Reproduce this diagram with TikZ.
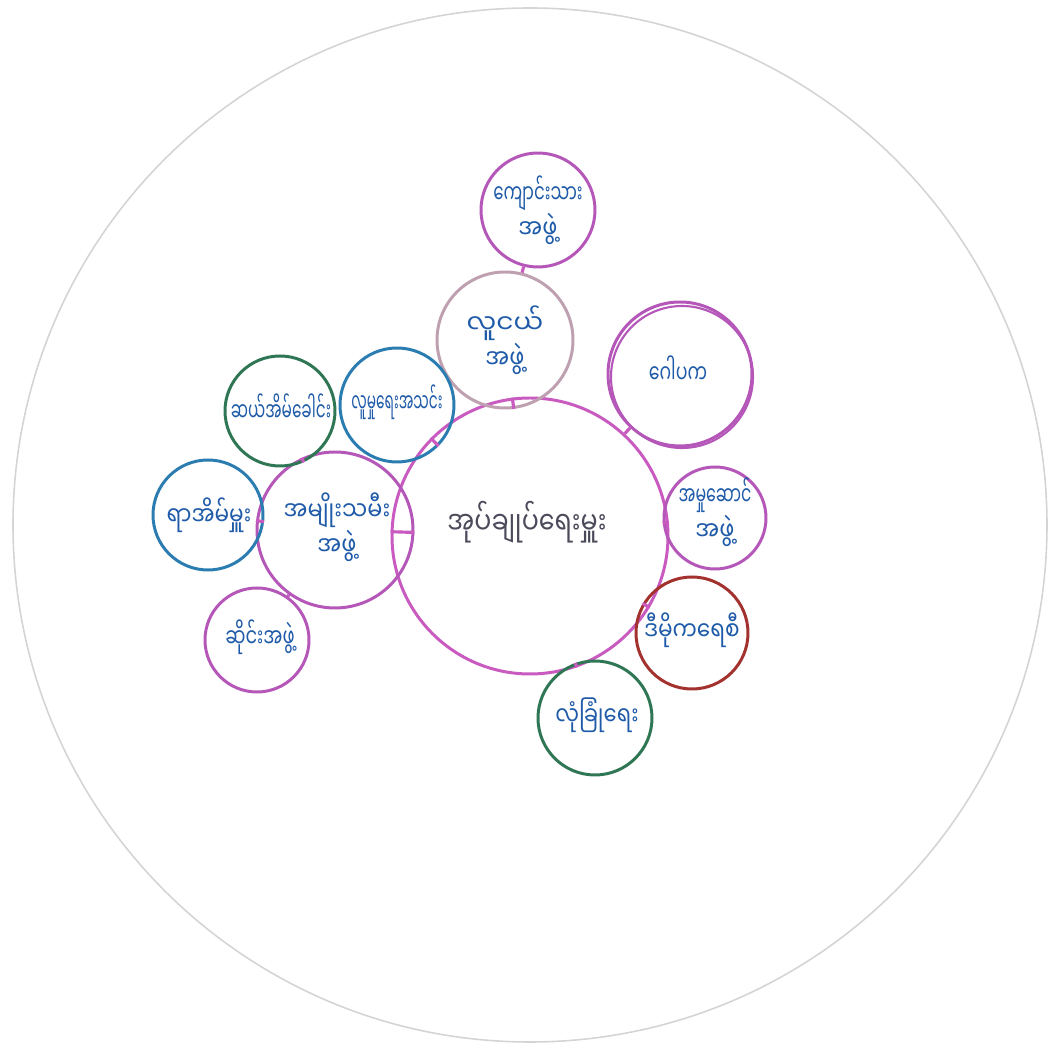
\documentclass[tikz,border=0pt]{standalone}
\usepackage{graphicx}
\usepackage{fontspec}
\newfontfamily\mmfont[Script=Myanmar]{Noto Sans Myanmar UI}
\definecolor{rimgray}{HTML}{D4D4D4}
\definecolor{hubpink}{HTML}{C85AC0}
\definecolor{plum}{HTML}{B457B8}
\definecolor{dustpink}{HTML}{BFA0B0}
\definecolor{tealblue}{HTML}{2B7CB0}
\definecolor{pine}{HTML}{2F7654}
\definecolor{brick}{HTML}{A3322F}
\definecolor{ink}{HTML}{1F5BA8}
\definecolor{hubink}{HTML}{4A4A5A}
% squeeze a word sideways, as the hand wrote it
\newcommand{\sq}[2]{\scalebox{#1}[1]{#2}}

\begin{document}
\begin{tikzpicture}[x=1cm, y=-1cm,
    bub/.style={circle, draw, line width=0.85pt, inner sep=0pt},
    txt/.style={inner sep=0pt, align=center, text=ink,
        font=\mmfont\fontsize{7.5}{10}\selectfont},
    link/.style={line width=0.9pt, draw=hubpink}]
    \useasboundingbox (0,0) rectangle (10.58,10.51);
    \draw[rimgray, line width=0.45pt] (5.30,5.25) circle (5.17);

    % hub and ring
    \node[bub, draw=hubpink, minimum size=2.76cm] (hub) at (5.30,5.36) {};
    \node[bub, draw=dustpink, minimum size=1.36cm] (youth) at (5.05,3.40) {};
    \node[bub, draw=plum, minimum size=1.14cm] (student) at (5.38,2.10) {};
    \node[bub, draw=plum, minimum size=1.44cm] (gopaka) at (6.80,3.74) {};
    \draw[plum, line width=0.6pt] ([shift={(0.02,0.03)}]gopaka.center) circle (0.71);
    \node[bub, draw=plum, minimum size=1.02cm] (exec) at (7.15,5.18) {};
    \node[bub, draw=brick, minimum size=1.12cm] (demo) at (6.92,6.33) {};
    \node[bub, draw=pine, minimum size=1.14cm] (security) at (5.95,7.18) {};
    \node[bub, draw=tealblue, minimum size=1.14cm] (social) at (3.97,4.05) {};
    \node[bub, draw=plum, minimum size=1.56cm] (women) at (3.35,5.30) {};

    % women's group branch
    \node[bub, draw=pine, minimum size=1.10cm] (tenhouse) at (2.80,4.11) {};
    \node[bub, draw=tealblue, minimum size=1.10cm] (hundred) at (2.08,5.15) {};
    \node[bub, draw=plum, minimum size=1.04cm] (music) at (2.57,6.40) {};

    \foreach \o in {youth, gopaka, exec, demo, security, social, women}
        \draw[link] (hub) -- (\o);
    \draw[link] (youth) -- (student);
    \foreach \o in {tenhouse, hundred, music}
        \draw[link] (women) -- (\o);

    % words
    \node[txt, text=hubink, font=\mmfont\fontsize{9}{11}\selectfont] (hubtx) at (5.27,5.22) {\sq{0.8}{အုပ်ချုပ်ရေးမှူး}};
    \node[txt] (youthtx) at (5.05,3.40) {\sq{1}{လူငယ်}\\\sq{0.85}{အဖွဲ့}};
    \node[txt] (studenttx) at (5.38,2.10) {\sq{0.63}{ကျောင်းသား}\\\sq{0.85}{အဖွဲ့}};
    \node[txt] (gopakatx) at (6.78,3.70) {\sq{0.66}{ဂေါပက}};
    \node[txt] (exectx) at (7.15,5.12) {\sq{0.6}{အမှုဆောင်}\\\sq{0.85}{အဖွဲ့}};
    \node[txt] (demotx) at (6.92,6.30) {\sq{0.82}{ဒီမိုကရေစီ}};
    \node[txt] (securitytx) at (5.97,7.15) {\sq{0.8}{လုံခြုံရေး}};
    \node[txt] (socialtx) at (3.97,4.02) {\sq{0.52}{လူမှုရေးအသင်း}};
    \node[txt] (womentx) at (3.37,5.27) {\sq{0.85}{အမျိုးသမီး}\\\sq{0.85}{အဖွဲ့}};
    \node[txt] (tenhousetx) at (2.81,4.08) {\sq{0.58}{ဆယ်အိမ်ခေါင်း}};
    \node[txt] (hundredtx) at (2.09,5.15) {\sq{0.82}{ရာအိမ်မှူး}};
    \node[txt] (musictx) at (2.60,6.37) {\sq{0.68}{ဆိုင်းအဖွဲ့}};
\end{tikzpicture}
\end{document}
